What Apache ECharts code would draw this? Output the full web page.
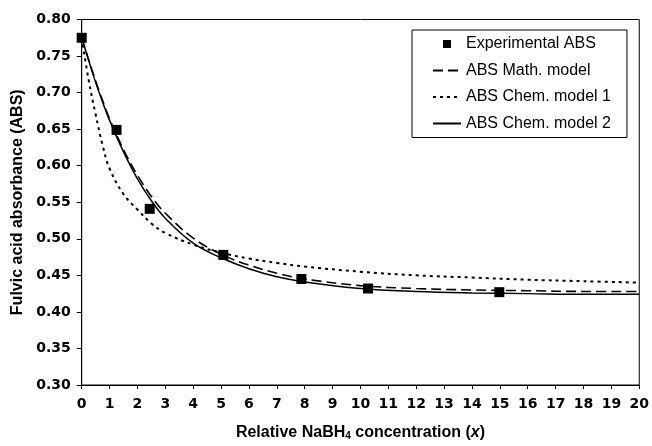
<!DOCTYPE html>
<html>
<head>
<meta charset="utf-8">
<script src="https://cdn.jsdelivr.net/npm/echarts@6/dist/echarts.min.js"></script>
<style>html,body{margin:0;padding:0;background:#fff}#c{width:652px;height:446px}</style>
</head>
<body>
<div id="c"></div>
<script>
// Data
var expX = [0, 1.25, 2.44, 5.08, 7.88, 10.27, 14.98];
var expY = [0.775, 0.649, 0.541, 0.478, 0.445, 0.432, 0.427];

var modelX = [0, 0.25, 0.5, 0.75, 1, 1.5, 2, 2.5, 3, 4, 5, 6, 7, 8, 10, 12, 14, 16, 18, 20];
var mathModel = [0.775, 0.745, 0.716, 0.689, 0.664, 0.622, 0.587, 0.558, 0.535, 0.501, 0.479, 0.464, 0.453, 0.445, 0.436, 0.432, 0.430, 0.429, 0.428, 0.428];
var chemModel1 = [0.775, 0.717, 0.670, 0.628, 0.596, 0.561, 0.540, 0.521, 0.508, 0.492, 0.481, 0.473, 0.467, 0.462, 0.455, 0.450, 0.447, 0.444, 0.442, 0.440];
var chemModel2 = [0.775, 0.744, 0.714, 0.687, 0.662, 0.619, 0.582, 0.552, 0.528, 0.494, 0.474, 0.459, 0.448, 0.441, 0.432, 0.428, 0.426, 0.425, 0.424, 0.424];

var seriesNames = ['Experimental ABS', 'ABS Math. model', 'ABS Chem. model 1', 'ABS Chem. model 2'];

function pairs(xs, ys) { return xs.map(function (x, i) { return [x, ys[i]]; }); }

var FONT = '"Liberation Sans", Arial, Helvetica, sans-serif';
var TICKFONT = '"DejaVu Sans", "Liberation Sans", Arial, sans-serif';
var hiddenSym = { opacity: 0, borderWidth: 0 };
var chart = echarts.init(document.getElementById('c'), null, { renderer: 'canvas' });
chart.setOption({
  backgroundColor: '#ffffff',
  animation: false,
  textStyle: { fontFamily: FONT, color: '#000' },
  grid: { left: 81.7, right: 11, top: 19.5, bottom: 54.5, show: true, borderColor: '#000', borderWidth: 1, backgroundColor: 'transparent' },
  legend: {
    orient: 'vertical',
    left: 412, top: 30,
    padding: [6, 16, 6, 20],
    itemWidth: 28, itemHeight: 14, itemGap: 10.5,
    backgroundColor: '#fff', borderColor: '#000', borderWidth: 1, borderRadius: 0,
    textStyle: { fontFamily: FONT, fontSize: 16, color: '#000' },
    data: [
      { name: seriesNames[0], icon: 'path://M0,0L0.01,0Z M10,3L18,3L18,11L10,11Z M28,14L27.99,14Z', itemStyle: { color: '#000', opacity: 1 } },
      { name: seriesNames[1], itemStyle: hiddenSym },
      { name: seriesNames[2], itemStyle: hiddenSym },
      { name: seriesNames[3], itemStyle: hiddenSym }
    ]
  },
  xAxis: {
    type: 'value', min: 0, max: 20, interval: 1,
    name: 'Relative NaBH{sub|4} concentration ({it|x})',
    nameLocation: 'middle', nameGap: 40,
    nameTextStyle: {
      fontFamily: FONT, fontSize: 16, fontWeight: 'bold', color: '#000',
      rich: {
        sub: { fontFamily: FONT, fontSize: 10, fontWeight: 'bold', verticalAlign: 'bottom', lineHeight: 11, padding: [8, 0, 0, 0] },
        it: { fontFamily: FONT, fontSize: 16, fontWeight: 'bold', fontStyle: 'italic' }
      }
    },
    axisLine: { lineStyle: { color: '#000', width: 1 } },
    axisTick: { show: true, inside: false, length: 4, lineStyle: { color: '#000' } },
    axisLabel: { fontFamily: TICKFONT, fontSize: 14, fontWeight: 'bold', color: '#000', margin: 12 },
    splitLine: { show: false }
  },
  yAxis: {
    type: 'value', min: 0.30, max: 0.80, interval: 0.05,
    name: 'Fulvic acid absorbance (ABS)',
    nameLocation: 'middle', nameGap: 53, nameRotate: 90,
    nameTextStyle: { fontFamily: FONT, fontSize: 16, fontWeight: 'bold', color: '#000' },
    axisLine: { show: true, lineStyle: { color: '#000', width: 1 } },
    axisTick: { show: true, inside: false, length: 5, lineStyle: { color: '#000' } },
    axisLabel: { fontFamily: TICKFONT, fontSize: 14, fontWeight: 'bold', color: '#000', margin: 11,
      formatter: function (v) { return v.toFixed(2); } },
    splitLine: { show: false }
  },
  series: [
    { name: seriesNames[1], type: 'line', smooth: 0.4, symbol: 'none', showSymbol: false,
      data: pairs(modelX, mathModel), lineStyle: { color: '#000', width: 1.6, type: [10, 5] }, itemStyle: { color: '#000' }, z: 3 },
    { name: seriesNames[2], type: 'line', smooth: 0.4, symbol: 'none', showSymbol: false,
      data: pairs(modelX, chemModel1), lineStyle: { color: '#000', width: 2, type: [3, 4] }, itemStyle: { color: '#000' }, z: 3 },
    { name: seriesNames[3], type: 'line', smooth: 0.4, symbol: 'none', showSymbol: false,
      data: pairs(modelX, chemModel2), lineStyle: { color: '#000', width: 1.5, type: 'solid' }, itemStyle: { color: '#000' }, z: 3 },
    { name: seriesNames[0], type: 'scatter', symbol: 'rect', symbolSize: 10,
      data: pairs(expX, expY), itemStyle: { color: '#000', opacity: 1 }, z: 5 }
  ]
});
</script>
</body>
</html>
